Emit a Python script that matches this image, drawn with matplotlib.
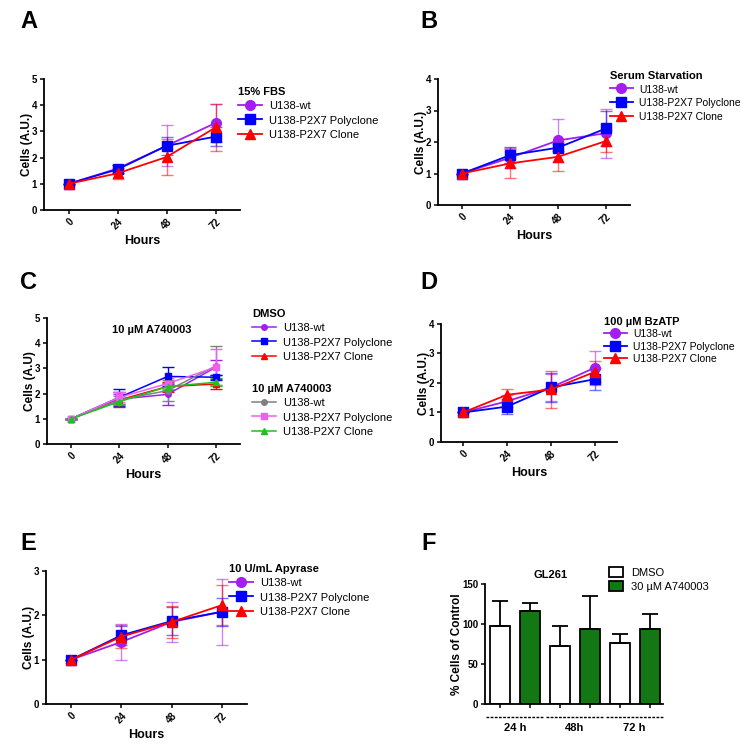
import numpy as np
import matplotlib.pyplot as plt

plt.rcParams['font.family'] = ['Liberation Sans', 'DejaVu Sans']
plt.rcParams['axes.linewidth'] = 1.3

W, H = 741, 746

hours = [0, 24, 48, 72]
names = ['U138-wt', 'U138-P2X7 Polyclone', 'U138-P2X7 Clone']

# panel A - 15% FBS
a_wt = [1.0, 1.58, 2.45, 3.32]
a_wt_err = [0, 0.15, 0.78, 0.72]
a_poly = [1.0, 1.55, 2.45, 2.80]
a_poly_err = [0, 0.15, 0.35, 0.35]
a_clone = [1.0, 1.40, 2.02, 3.15]
a_clone_err = [0, 0.20, 0.70, 0.88]

# panel B - serum starvation
b_wt = [1.0, 1.50, 2.05, 2.28]
b_wt_err = [0, 0.32, 0.68, 0.78]
b_poly = [1.0, 1.58, 1.82, 2.43]
b_poly_err = [0, 0.25, 0.12, 0.55]
b_clone = [1.0, 1.32, 1.53, 2.03]
b_clone_err = [0, 0.47, 0.46, 0.35]

# panel C - DMSO vs 10 uM A740003
c_dmso_wt = [1.0, 1.78, 1.97, 3.05]
c_dmso_wt_err = [0, 0.20, 0.42, 0.30]
c_dmso_poly = [1.0, 1.85, 2.68, 2.65]
c_dmso_poly_err = [0, 0.35, 0.38, 0.10]
c_dmso_clone = [1.0, 1.75, 2.28, 2.38]
c_dmso_clone_err = [0, 0.30, 0.20, 0.20]
c_a74_wt = [1.0, 1.75, 2.12, 3.10]
c_a74_wt_err = [0, 0.15, 0.40, 0.77]
c_a74_poly = [1.0, 1.85, 2.40, 3.05]
c_a74_poly_err = [0, 0.20, 0.20, 0.72]
c_a74_clone = [1.0, 1.68, 2.28, 2.45]
c_a74_clone_err = [0, 0.12, 0.15, 0.15]

# panel D - 100 uM BzATP
d_wt = [1.0, 1.38, 1.85, 2.52]
d_wt_err = [0, 0.20, 0.45, 0.58]
d_poly = [1.0, 1.20, 1.85, 2.13]
d_poly_err = [0, 0.25, 0.50, 0.38]
d_clone = [1.0, 1.60, 1.78, 2.38]
d_clone_err = [0, 0.20, 0.62, 0.36]

# panel E - 10 U/mL apyrase
e_wt = [1.0, 1.40, 1.85, 2.08]
e_wt_err = [0, 0.40, 0.45, 0.74]
e_poly = [1.0, 1.55, 1.87, 2.08]
e_poly_err = [0, 0.22, 0.32, 0.32]
e_clone = [1.0, 1.52, 1.85, 2.23]
e_clone_err = [0, 0.26, 0.35, 0.45]

# panel F - GL261
f_groups = ['24 h', '48h', '72 h']
f_dmso = [98, 72, 76]
f_dmso_err = [31, 25, 12]
f_a74 = [116, 94, 94]
f_a74_err = [10, 41, 19]

purple = '#a21ff0'
blue = '#0000ff'
red = '#ff0000'


def box(l, t, r, b):
    return [l / W, 1 - b / H, (r - l) / W, (b - t) / H]


def style(ax, ymax, ylabel):
    ax.spines['top'].set_visible(False)
    ax.spines['right'].set_visible(False)
    ax.set_xlim(-12, 84)
    ax.set_ylim(0, ymax)
    ax.set_yticks(range(0, ymax + 1))
    ax.set_xticks(hours)
    ax.set_xticklabels([str(h) for h in hours], rotation=45, ha='right',
                       rotation_mode='anchor', fontsize=7, fontweight='bold')
    for t in ax.get_yticklabels():
        t.set_fontsize(7)
        t.set_fontweight('bold')
    ax.tick_params(length=3, width=1.1, pad=2)
    ax.set_xlabel('Hours', fontsize=9, fontweight='bold', labelpad=2)
    ax.set_ylabel(ylabel, fontsize=8.5, fontweight='bold', labelpad=-1)


def draw(ax, ys, errs, colors, markers, ms, alpha=0.55, lw=1.3):
    handles = []
    for y, e, c, m in zip(ys, errs, colors, markers):
        ax.errorbar(hours, y, yerr=e, color=c, ecolor=c, elinewidth=1.0,
                    capsize=4, capthick=1.0, linestyle='none', alpha=alpha, zorder=2)
        h, = ax.plot(hours, y, color=c, marker=m, ms=ms, lw=lw, zorder=3)
        handles.append(h)
    return handles


def legend(ax, handles, title, x, y, sp=0.3, hh=1.1, fs=8):
    lg = ax.legend(handles, names, title=title, loc='upper left',
                   bbox_to_anchor=(x / W, 1 - y / H), bbox_transform=fig.transFigure,
                   frameon=False, fontsize=fs, title_fontproperties={'weight': 'bold', 'size': 8},
                   alignment='left', borderpad=0, labelspacing=sp, handlelength=2.2,
                   handleheight=hh, handletextpad=0.6, borderaxespad=0)
    return lg


fig = plt.figure(figsize=(W / 100, H / 100), dpi=100)

mk = ['o', 's', '^']
cols = [purple, blue, red]

# A
axA = fig.add_axes(box(44, 79, 240, 210))
hA = draw(axA, [a_wt, a_poly, a_clone], [a_wt_err, a_poly_err, a_clone_err], cols, mk, 7)
style(axA, 5, 'Cells (A.U.)')
legend(axA, hA, '15% FBS', 238, 87)

# B
axB = fig.add_axes(box(438, 79, 630, 205))
hB = draw(axB, [b_wt, b_poly, b_clone], [b_wt_err, b_poly_err, b_clone_err], cols, mk, 7)
style(axB, 4, 'Cells (A.U.)')
legend(axB, hB, 'Serum Starvation', 610, 71, fs=7.5)

# C
axC = fig.add_axes(box(47, 318, 240, 444))
hC1 = draw(axC, [c_dmso_wt, c_dmso_poly, c_dmso_clone],
           [c_dmso_wt_err, c_dmso_poly_err, c_dmso_clone_err],
           [purple, blue, red], mk, 4, alpha=1.0, lw=1.1)
hC2 = draw(axC, [c_a74_wt, c_a74_poly, c_a74_clone],
           [c_a74_wt_err, c_a74_poly_err, c_a74_clone_err],
           ['#808080', '#f060f0', '#1fc01f'], mk, 4, alpha=1.0, lw=1.1)
style(axC, 5, 'Cells (A.U)')
axC.text(40, 4.52, '10 \u00b5M A740003', ha='center', va='center', fontsize=8, fontweight='bold')
lg1 = legend(axC, hC1, 'DMSO', 252, 309)
axC.add_artist(lg1)
legend(axC, hC2, '10 \u00b5M A740003', 252, 384)

# D
axD = fig.add_axes(box(441, 324, 617, 442))
hD = draw(axD, [d_wt, d_poly, d_clone], [d_wt_err, d_poly_err, d_clone_err], cols, mk, 7)
style(axD, 4, 'Cells (A.U.)')
legend(axD, hD, '100 \u00b5M BzATP', 604, 317, sp=0.2, hh=1.0, fs=7.5)

# E
axE = fig.add_axes(box(46, 571, 247, 704))
hE = draw(axE, [e_wt, e_poly, e_clone], [e_wt_err, e_poly_err, e_clone_err], cols, mk, 7)
style(axE, 3, 'Cells (A.U.)')
legend(axE, hE, '10 U/mL Apyrase', 229, 564)

# F
axF = fig.add_axes(box(485, 584, 663, 704))
xpos = np.arange(len(f_groups)) * 2
bw = 0.67
axF.bar(xpos, f_dmso, width=bw, color='white', edgecolor='black', lw=1.3,
        yerr=[np.zeros(3), f_dmso_err], error_kw=dict(capsize=6, elinewidth=1.3, capthick=1.3),
        label='DMSO', zorder=2)
axF.bar(xpos + 1, f_a74, width=bw, color='#137813', edgecolor='black', lw=1.3,
        yerr=[np.zeros(3), f_a74_err], error_kw=dict(capsize=6, elinewidth=1.3, capthick=1.3),
        label='30 \u00b5M A740003', zorder=2)
axF.spines['top'].set_visible(False)
axF.spines['right'].set_visible(False)
axF.set_xlim(-0.5, 5.45)
axF.set_ylim(0, 150)
axF.set_yticks([0, 50, 100, 150])
for t in axF.get_yticklabels():
    t.set_fontsize(7)
    t.set_fontweight('bold')
axF.set_xticks(np.concatenate([xpos, xpos + 1]))
axF.set_xticklabels([])
axF.tick_params(length=3, width=1.1, pad=2)
axF.set_ylabel('% Cells of Control', fontsize=8.5, fontweight='bold', labelpad=-1)
axF.set_title('GL261', fontsize=8, fontweight='bold', pad=4, x=0.37)
for i, g in enumerate(f_groups):
    c = xpos[i] + 0.5
    axF.plot([c - 0.97, c + 0.97], [-16, -16], ls=(0, (2, 1)), color='black', lw=1.0, clip_on=False)
    axF.text(c, -24, g, ha='center', va='top', fontsize=8, fontweight='bold', clip_on=False)
axF.legend(loc='upper left', bbox_to_anchor=(609 / W, 1 - 567 / H), bbox_transform=fig.transFigure,
           frameon=False, fontsize=8, borderpad=0, borderaxespad=0, labelspacing=0.3,
           handlelength=1.3, handleheight=1.0, handletextpad=0.7)

# panel letters
for lab, x, y in [('A', 20, 22), ('B', 420, 22), ('C', 20, 283), ('D', 420, 283),
                  ('E', 20, 544), ('F', 421, 544)]:
    fig.text(x / W, 1 - y / H, lab, fontsize=17, fontweight='bold', va='center', ha='left')

fig.savefig('out.png', dpi=100)
